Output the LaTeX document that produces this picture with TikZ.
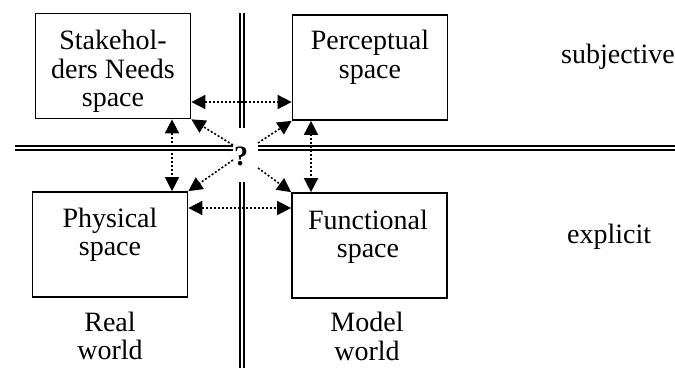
\documentclass[tikz,border=0pt]{standalone}
\usepackage{fontspec}
\setmainfont{Liberation Serif}
\usetikzlibrary{arrows.meta}
\begin{document}
\begin{tikzpicture}[x=1pt,y=-1pt,
  every node/.style={font=\fontsize{28}{28.5}\selectfont},
  spacebox/.style={draw, line width=1.7pt, minimum width=155pt, minimum height=105pt, inner sep=0pt},
  caption/.style={align=center, inner sep=0pt},
  wall/.style={double, draw=black, double distance=2.2pt, line width=1.9pt},
  link/.style={line width=1.6pt, dash pattern=on 2pt off 2pt,
    {Triangle[length=14pt,width=14pt]}-{Triangle[length=14pt,width=14pt]}},
  ray/.style={line width=1.6pt, dash pattern=on 2pt off 2pt,
    -{Triangle[length=14pt,width=14pt]}}]
  \useasboundingbox (0,0) rectangle (675,367);

  % quadrant separators
  \coordinate (hl1) at (15,148);   \coordinate (hl2) at (233,148);
  \coordinate (hr1) at (258,148);  \coordinate (hr2) at (680,148);
  \coordinate (vt1) at (242,13);   \coordinate (vt2) at (242,128);
  \coordinate (vb1) at (242,182);  \coordinate (vb2) at (242,372);
  \draw[wall] (hl1) -- (hl2);
  \draw[wall] (hr1) -- (hr2);
  \draw[wall] (vt1) -- (vt2);
  \draw[wall] (vb1) -- (vb2);

  % the four spaces
  \node[spacebox] (sn)   at (113,66)    {};
  \node[spacebox] (perc) at (370,67.5)  {};
  \node[spacebox] (phys) at (110,244.5) {};
  \node[spacebox] (func) at (369.5,245.5) {};

  \node[caption] (snT)   at (113,71.5) {Stakehol-\\ders Needs\\space};
  \node[caption] (percT) at (370,57.5) {Perceptual\\space};
  \node[caption] (physT) at (110,235)  {Physical\\space};
  \node[caption] (funcT) at (368,237)  {Functional\\space};

  % axis labels
  \node[caption] (real)  at (110,336) {Real\\world};
  \node[caption] (model) at (367,336.5) {Model\\world};
  \node[caption, anchor=west] (subj) at (561,57)  {subjective};
  \node[caption, anchor=west] (expl) at (567,237) {explicit};

  % centre
  \node[inner sep=0pt] (q) at (241,156) {\textbf{?}};
  \coordinate (qNW) at (233,145);
  \coordinate (qNE) at (258,143);
  \coordinate (qSW) at (233,160);
  \coordinate (qSE) at (258,168);

  % relations between the spaces
  \draw[link] (sn.east |- 0,102) -- (perc.west |- 0,102);
  \draw[link] (phys.east |- 0,208) -- (func.west |- 0,208);
  \draw[link] (sn.south -| 172,0) -- (phys.north -| 172,0);
  \draw[link] (perc.south -| 311,0) -- (func.north -| 311,0);

  \draw[ray] (qNW) -- (sn.south east);
  \draw[ray] (qNE) -- (perc.south west);
  \draw[ray] (qSW) -- (phys.north east);
  \draw[ray] (qSE) -- (func.north west);
\end{tikzpicture}
\end{document}
